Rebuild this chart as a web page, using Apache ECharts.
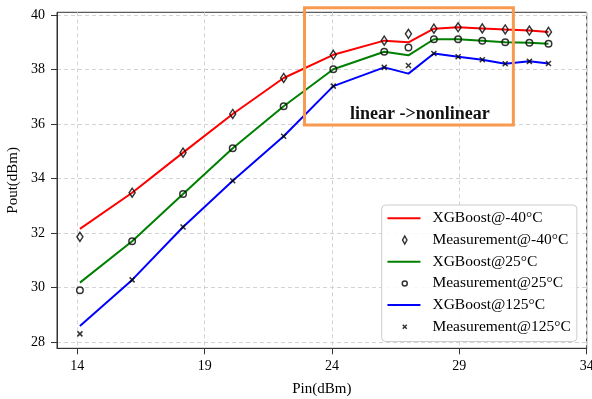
<!DOCTYPE html>
<html>
<head>
<meta charset="utf-8">
<script src="https://cdn.jsdelivr.net/npm/echarts@6/dist/echarts.min.js"></script>
<style>
  html, body { margin: 0; padding: 0; background: #fff; }
  #chart { width: 592px; height: 399px; }
</style>
</head>
<body>
<div id="chart"></div>
<script>
// Input power sweep (dBm)
const pin = [14.1, 16.15, 18.15, 20.1, 22.1, 24.05, 26.05, 27.0, 28.0, 28.95, 29.9, 30.8, 31.75, 32.5];

// Output power (dBm): model predictions and measured values per temperature
const xgbM40  = [32.15, 33.48, 34.95, 36.37, 37.69, 38.54, 39.06, 39.00, 39.50, 39.55, 39.51, 39.47, 39.43, 39.38];
const measM40 = [31.86, 33.48, 34.95, 36.37, 37.69, 38.54, 39.06, 39.31, 39.50, 39.55, 39.51, 39.47, 39.43, 39.38];
const xgb25   = [30.18, 31.70, 33.43, 35.11, 36.65, 38.01, 38.65, 38.52, 39.11, 39.11, 39.06, 39.00, 38.98, 38.95];
const meas25  = [29.90, 31.70, 33.43, 35.11, 36.65, 38.01, 38.65, 38.81, 39.11, 39.11, 39.06, 39.00, 38.98, 38.95];
const xgb125  = [28.59, 30.28, 32.22, 33.92, 35.55, 37.39, 38.08, 37.85, 38.59, 38.47, 38.36, 38.21, 38.30, 38.22];
const meas125 = [28.30, 30.28, 32.22, 33.92, 35.55, 37.39, 38.08, 38.15, 38.59, 38.47, 38.36, 38.21, 38.30, 38.22];

// Tick values
const xTicks = [14, 19, 24, 29, 34];
const yTicks = [28, 30, 32, 34, 36, 38, 40];

// Highlighted region (data coordinates) and its caption
const boxPin  = [22.92, 31.12];
const boxPout = [35.96, 40.27];
const boxText = 'linear ->nonlinear';
const boxTextAt = [27.45, 36.35];

const serif = '"Liberation Serif", "Times New Roman", serif';
const pairs = (xs, ys) => xs.map((x, i) => [x, ys[i]]);

// Marker shapes
const diamondSym = 'path://M3,0L6,4.5L3,9L0,4.5Z';
const crossSym = 'path://M0,0L4,4M4,0L0,4';
// Legend icons (padded to the 40x14 icon box with bare moveTo points)
const lineIcon = 'path://M0,0M40,14M0,6L33,6L33,8L0,8Z';
const diamondIcon = 'path://M0,0M40,14M17.3,3L19.5,7L17.3,11L15.1,7Z';
const circleIcon = 'path://M0,0M40,14M19.8,7A2.5,2.5 0 1 1 14.8,7A2.5,2.5 0 1 1 19.8,7Z';
const crossIcon = 'path://M0,0M40,14M15.3,5L19.3,9M19.3,5L15.3,9';

const markerStyle = { color: 'transparent', borderColor: '#000', borderWidth: 1.5 };

function lineSeries(name, ys, color) {
  return {
    name, type: 'line', data: pairs(pin, ys), symbol: 'none',
    lineStyle: { color, width: 2 }, itemStyle: { color },
    z: 2, silent: true
  };
}
function measSeries(name, ys, symbol, size) {
  return {
    name, type: 'scatter', data: pairs(pin, ys), symbol, symbolSize: size,
    itemStyle: markerStyle, z: 3, silent: true
  };
}

const chart = echarts.init(document.getElementById('chart'), null, { renderer: 'canvas' });

chart.setOption({
  animation: false,
  backgroundColor: '#fff',
  grid: {
    left: 57, right: 5.3, top: 12.3, bottom: 50.7,
    outerBoundsMode: 'none', containLabel: false,
    show: true, borderColor: '#333', borderWidth: 1, backgroundColor: 'transparent'
  },
  xAxis: {
    type: 'value', min: 13.2, max: 34,
    name: 'Pin(dBm)', nameLocation: 'middle', nameGap: 33,
    nameTextStyle: { fontFamily: serif, fontSize: 15, color: '#000' },
    axisLine: { show: true, lineStyle: { color: '#333', width: 1 } },
    axisTick: { show: true, length: 6, customValues: xTicks, lineStyle: { color: '#333' } },
    axisLabel: { customValues: xTicks, fontFamily: serif, fontSize: 14, color: '#000', margin: 11 },
    splitLine: { show: true, lineStyle: { color: '#d3d3d3', type: [4, 3], width: 1 } }
  },
  yAxis: {
    type: 'value', min: 27.77, max: 40.1,
    name: 'Pout(dBm)', nameLocation: 'middle', nameGap: 29,
    nameTextStyle: { fontFamily: serif, fontSize: 15, color: '#000' },
    axisLine: { show: true, lineStyle: { color: '#333', width: 1 } },
    axisTick: { show: true, length: 6, customValues: yTicks, lineStyle: { color: '#333' } },
    axisLabel: { customValues: yTicks, fontFamily: serif, fontSize: 14, color: '#000', margin: 12 },
    splitLine: { show: true, lineStyle: { color: '#d3d3d3', type: [4, 3], width: 1 } }
  },
  legend: {
    orient: 'vertical', left: 381.7, top: 205,
    padding: [5.3, 6, 6.7, 5],
    itemWidth: 40, itemHeight: 14, itemGap: 5.7,
    backgroundColor: 'rgba(255,255,255,0.85)', borderColor: '#cccccc', borderWidth: 1, borderRadius: 4,
    textStyle: { fontFamily: serif, fontSize: 15.5, color: '#000', lineHeight: 16 },
    selectedMode: false,
    data: [
      { name: 'XGBoost@-40°C', icon: lineIcon, itemStyle: { color: '#ff0000', borderWidth: 0 } },
      { name: 'Measurement@-40°C', icon: diamondIcon, itemStyle: markerStyle },
      { name: 'XGBoost@25°C', icon: lineIcon, itemStyle: { color: '#008000', borderWidth: 0 } },
      { name: 'Measurement@25°C', icon: circleIcon, itemStyle: markerStyle },
      { name: 'XGBoost@125°C', icon: lineIcon, itemStyle: { color: '#0000ff', borderWidth: 0 } },
      { name: 'Measurement@125°C', icon: crossIcon, itemStyle: markerStyle }
    ]
  },
  series: [
    lineSeries('XGBoost@-40°C', xgbM40, '#ff0000'),
    measSeries('Measurement@-40°C', measM40, diamondSym, [6, 9]),
    lineSeries('XGBoost@25°C', xgb25, '#008000'),
    measSeries('Measurement@25°C', meas25, 'circle', 6.5),
    lineSeries('XGBoost@125°C', xgb125, '#0000ff'),
    measSeries('Measurement@125°C', meas125, crossSym, 5)
  ]
});

// Annotation box and caption, placed through the axis scales
const p0 = chart.convertToPixel({ gridIndex: 0 }, [boxPin[0], boxPout[1]]);
const p1 = chart.convertToPixel({ gridIndex: 0 }, [boxPin[1], boxPout[0]]);
const pt = chart.convertToPixel({ gridIndex: 0 }, boxTextAt);
chart.setOption({
  graphic: [
    {
      type: 'rect', z: 10, silent: true,
      shape: { x: p0[0], y: p0[1], width: p1[0] - p0[0], height: p1[1] - p0[1] },
      style: { fill: 'none', stroke: '#f79a4f', lineWidth: 3 }
    },
    {
      type: 'text', z: 10, silent: true, x: pt[0], y: pt[1],
      style: {
        text: boxText, fill: '#111', align: 'center', verticalAlign: 'middle',
        font: 'bold 18px ' + serif
      }
    }
  ]
});
</script>
</body>
</html>
